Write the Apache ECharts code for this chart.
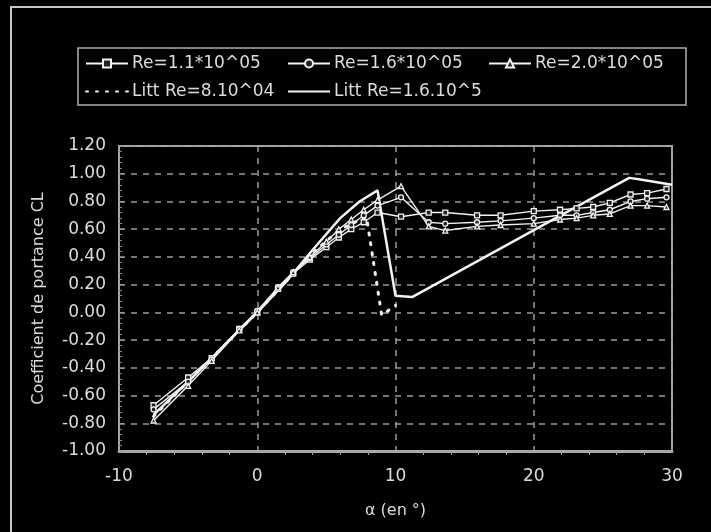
<!DOCTYPE html>
<html>
<head>
<meta charset="utf-8">
<script src="https://cdn.jsdelivr.net/npm/echarts@6/dist/echarts.min.js"></script>
<style>
    html, body { margin: 0; padding: 0; background: #000; }
    #chart { width: 711px; height: 532px; }
</style>
</head>
<body>
<div id="chart"></div>
<script>
// angles d'incidence des essais
var alphaExp = [-7.5, -5, -3.3, -1.3, 0, 1.5, 2.6, 3.8, 5, 5.9, 6.8, 7.7, 8.7, 10.4,
    12.4, 13.6, 15.9, 17.6, 20, 21.9, 23.1, 24.3, 25.5, 27, 28.2, 29.6];
var cl11 = [-0.67, -0.47, -0.33, -0.12, 0.00, 0.17, 0.28, 0.38, 0.47, 0.54, 0.60, 0.65, 0.72, 0.69,
    0.72, 0.72, 0.70, 0.70, 0.73, 0.74, 0.75, 0.76, 0.79, 0.85, 0.86, 0.89];
var cl16 = [-0.70, -0.50, -0.34, -0.12, 0.01, 0.18, 0.29, 0.39, 0.49, 0.56, 0.63, 0.70, 0.77, 0.83,
    0.65, 0.64, 0.65, 0.66, 0.68, 0.70, 0.70, 0.72, 0.74, 0.80, 0.82, 0.83];
var cl20 = [-0.78, -0.53, -0.35, -0.13, 0.00, 0.18, 0.29, 0.40, 0.51, 0.60, 0.67, 0.74, 0.81, 0.91,
    0.62, 0.59, 0.62, 0.63, 0.64, 0.67, 0.68, 0.70, 0.71, 0.77, 0.77, 0.76];

// littérature
var alphaLitt8 = [-7.5, -5, 0, 4, 6, 7.9, 9.0, 10.0];
var clLitt8 = [-0.75, -0.50, 0, 0.43, 0.60, 0.69, -0.02, 0.05];
var alphaLitt16 = [-7.5, -5, 0, 2, 4, 6, 7.4, 8.7, 10.0, 11.2, 20.5, 26.9, 27.6, 30];
var clLitt16 = [-0.74, -0.50, 0, 0.21, 0.45, 0.68, 0.80, 0.88, 0.12, 0.11, 0.62, 0.97, 0.96, 0.92];

var names = ['Re=1.1*10^05', 'Re=1.6*10^05', 'Re=2.0*10^05', 'Litt Re=8.10^04', 'Litt Re=1.6.10^5'];

function pairs(xs, ys) {
    return xs.map(function (x, i) { return [x, ys[i]]; });
}

var txt = '#dcdcdc';
var font = 'DejaVu Sans';

var chart = echarts.init(document.getElementById('chart'));

function legendAt(name, left, top, noSymbol) {
    var lg = {
        data: [name],
        left: left,
        top: top,
        padding: 0,
        itemWidth: 42,
        itemHeight: 10,
        selectedMode: false,
        textStyle: { color: txt, fontSize: 17, fontFamily: font, padding: [0, 0, 0, -1] }
    };
    if (noSymbol) lg.itemStyle = { opacity: 0 };
    return lg;
}

function expSeries(name, data, symbol) {
    return {
        name: name,
        type: 'line',
        data: data,
        symbol: symbol,
        symbolSize: 5,
        lineStyle: { color: '#f2f2f2', width: 1.4 },
        itemStyle: { color: '#222', borderColor: '#f2f2f2', borderWidth: 1.3 },
        z: 3
    };
}

chart.setOption({
    backgroundColor: '#000',
    animation: false,
    textStyle: { fontFamily: font },
    graphic: [{
        type: 'rect',
        shape: { x: 11, y: 7, width: 760, height: 600 },
        style: { fill: null, stroke: '#c8c8c8', lineWidth: 2 }
    }, {
        type: 'rect',
        shape: { x: 78, y: 48, width: 608, height: 57 },
        style: { fill: null, stroke: '#b0b0b0', lineWidth: 1.5 }
    }],
    legend: [
        legendAt(names[0], 85, 55),
        legendAt(names[1], 287, 55),
        legendAt(names[2], 488, 55),
        legendAt(names[3], 85, 83, true),
        legendAt(names[4], 287, 83, true)
    ],
    grid: {
        left: 119, right: 39, top: 146, bottom: 81,
        show: true,
        borderColor: '#a8a8a8',
        borderWidth: 2
    },
    xAxis: {
        type: 'value',
        min: -10, max: 30, interval: 10,
        name: 'α (en °)',
        nameLocation: 'middle',
        nameGap: 52,
        nameTextStyle: { color: txt, fontSize: 16, fontFamily: font },
        axisLine: { onZero: false, lineStyle: { color: '#a8a8a8', width: 3 } },
        axisTick: { show: false },
        minorTick: { show: true, splitNumber: 5, length: 4, lineStyle: { color: '#999' } },
        axisLabel: { color: txt, fontSize: 17, fontFamily: font, margin: 17 },
        splitLine: { lineStyle: { color: '#9a9a9a', type: [6, 6], width: 1.5 } }
    },
    yAxis: {
        type: 'value',
        min: -1, max: 1.2, interval: 0.2,
        name: 'Coefficient de portance CL',
        nameLocation: 'middle',
        nameGap: 72,
        nameRotate: 90,
        nameTextStyle: { color: txt, fontSize: 16, fontFamily: font },
        axisLine: { show: true, onZero: false, lineStyle: { color: '#a8a8a8', width: 2 } },
        axisTick: { inside: true, length: 5, lineStyle: { color: '#999' } },
        minorTick: { show: true, splitNumber: 5, length: 3, lineStyle: { color: '#888' } },
        axisLabel: {
            color: txt, fontSize: 17, fontFamily: font, margin: 13,
            formatter: function (v) { return v.toFixed(2); }
        },
        splitLine: { lineStyle: { color: '#9a9a9a', type: [6, 6], width: 1.5 } }
    },
    series: [
        expSeries(names[0], pairs(alphaExp, cl11), 'rect'),
        expSeries(names[1], pairs(alphaExp, cl16), 'circle'),
        expSeries(names[2], pairs(alphaExp, cl20), 'triangle'),
        {
            name: names[3],
            type: 'line',
            data: pairs(alphaLitt8, clLitt8),
            showSymbol: false,
            symbol: 'none',
            lineStyle: { color: '#f2f2f2', width: 3, type: [2, 8], cap: 'round' },
            itemStyle: { color: '#f2f2f2' },
            z: 2
        },
        {
            name: names[4],
            type: 'line',
            data: pairs(alphaLitt16, clLitt16),
            showSymbol: false,
            symbol: 'none',
            lineStyle: { color: '#f2f2f2', width: 2.5 },
            itemStyle: { color: '#f2f2f2' },
            z: 2
        }
    ]
});
</script>
</body>
</html>
